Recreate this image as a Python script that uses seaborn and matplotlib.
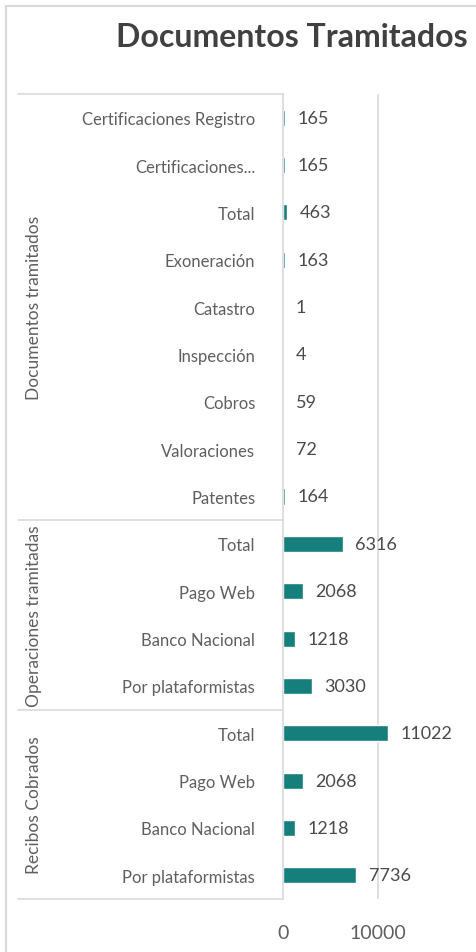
import matplotlib
matplotlib.use("Agg")
import matplotlib.pyplot as plt
import matplotlib.transforms as mtransforms
import pandas as pd
import seaborn as sns

# data
groups = ["Documentos tramitados"] * 9 + ["Operaciones tramitadas"] * 4 + ["Recibos Cobrados"] * 4
labels = [
    "Certificaciones Registro", "Certificaciones...", "Total", "Exoneración",
    "Catastro", "Inspección", "Cobros", "Valoraciones", "Patentes",
    "Total", "Pago Web", "Banco Nacional", "Por plataformistas",
    "Total", "Pago Web", "Banco Nacional", "Por plataformistas",
]
values = [165, 165, 463, 163, 1, 4, 59, 72, 164,
          6316, 2068, 1218, 3030,
          11022, 2068, 1218, 7736]
x_ticks = [0, 10000]
title = "Documentos Tramitados"

BAR = "#177f7b"
GRID = "#d9d9d9"
TXT = "#5f5f5f"

df = pd.DataFrame({"group": groups, "label": labels, "value": values})
df["key"] = [f"{g}|{l}" for g, l in zip(df["group"], df["label"])]

sns.set_theme(style="white")
plt.rcParams["font.family"] = ["Lato", "DejaVu Sans"]

W, H = 477, 953
fig = plt.figure(figsize=(W / 100, H / 100), dpi=100)
ax = fig.add_axes([283 / W, 1 - 900 / H, 185 / W, 805 / H])

sns.barplot(data=df, y="key", x="value", orient="h", color=BAR,
            width=0.34, saturation=1, ax=ax)

ax.set_xlim(0, 19500)
ax.set_ylim(len(df) - 0.5, -0.5)
ax.set_xticks(x_ticks)
ax.set_xticklabels([str(t) for t in x_ticks], fontsize=14, color=TXT)
ax.tick_params(axis="x", length=0, pad=18)
ax.set_yticks(range(len(df)))
ax.set_yticklabels(df["label"], fontsize=12, color=TXT)
ax.tick_params(axis="y", length=0, pad=20)
ax.set_xlabel("")
ax.set_ylabel("")
for s in ["top", "right", "bottom"]:
    ax.spines[s].set_visible(False)
ax.spines["left"].set_color(GRID)
ax.spines["left"].set_linewidth(1.2)
for t in x_ticks[1:]:
    ax.axvline(t, color=GRID, lw=1.2, zorder=0)

# value labels
for i, v in enumerate(df["value"]):
    ax.annotate(str(v), (v, i), xytext=(9, 0), textcoords="offset points",
                va="center", ha="left", fontsize=13, color="#4a4a4a")

# group separators and group labels
trans = mtransforms.blended_transform_factory(fig.transFigure, ax.transData)
bounds = [-0.5]
for g in pd.unique(df["group"]):
    bounds.append(bounds[-1] + (df["group"] == g).sum())
for b in bounds:
    ax.plot([18 / W, 283 / W], [b, b], transform=trans, color=GRID,
            lw=1.2, clip_on=False)
for g, lo, hi in zip(pd.unique(df["group"]), bounds[:-1], bounds[1:]):
    ax.text(34 / W, (lo + hi) / 2, g, transform=trans, rotation=90,
            ha="center", va="center", fontsize=12.5, color=TXT)

# outer frame and title
fig.add_artist(plt.Line2D([6 / W, 6 / W], [0, 1 - 7 / H], color=GRID, lw=1.5))
fig.add_artist(plt.Line2D([6 / W, 1], [1 - 7 / H, 1 - 7 / H], color=GRID, lw=1.5))
fig.text(468 / W, 1 - 38 / H, title, ha="right", va="center",
         fontsize=23, fontweight="bold", color="#404040")

fig.savefig("out.png", dpi=100)
